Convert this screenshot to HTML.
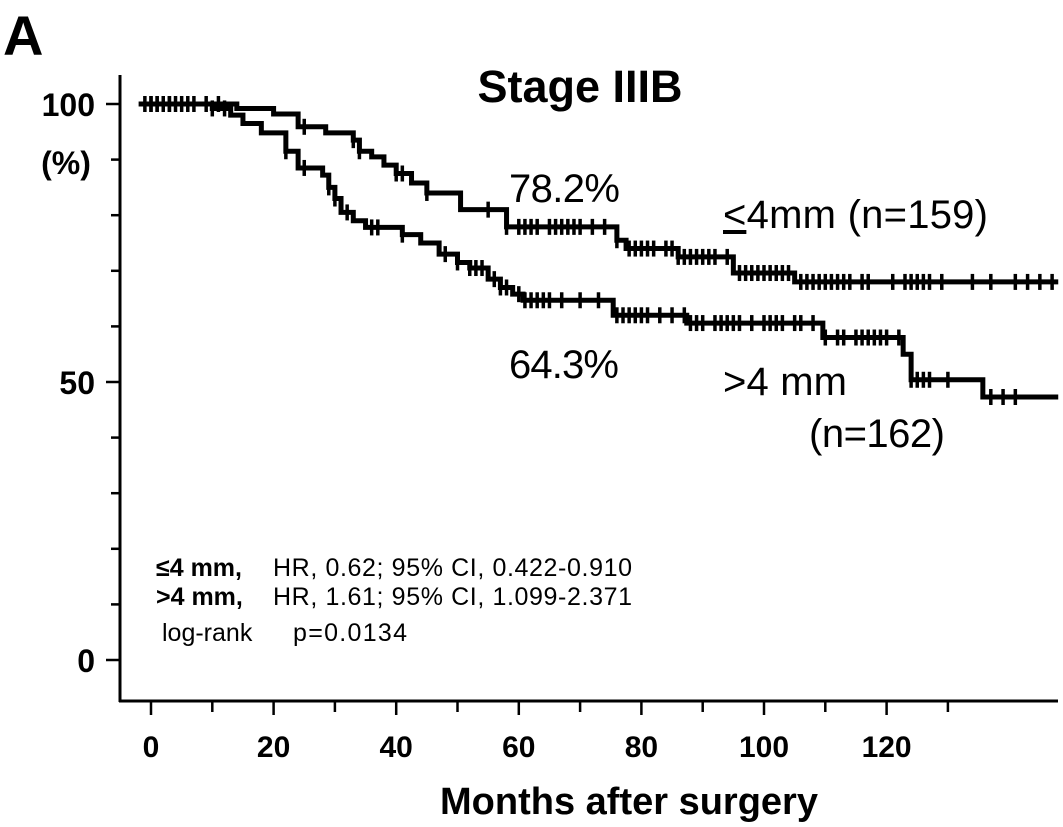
<!DOCTYPE html>
<html><head><meta charset="utf-8"><style>
body{margin:0;background:#fff;}
svg{display:block;font-family:"Liberation Sans",Arial,sans-serif;}
</style></head><body>
<svg id="chart" width="1063" height="827" viewBox="0 0 1063 827">
<text x="3" y="55" font-size="56" font-weight="bold">A</text>
<text x="580" y="102" font-size="45" font-weight="bold" text-anchor="middle">Stage IIIB</text>
<text x="66" y="174" font-size="32" font-weight="bold" text-anchor="middle">(%)</text>
<text x="629" y="814" font-size="38" font-weight="bold" text-anchor="middle">Months after surgery</text>
<text x="509" y="202" font-size="40" textLength="111">78.2%</text>
<text x="723" y="228" font-size="40" textLength="265"><tspan text-decoration="underline">&lt;</tspan>4mm (n=159)</text>
<text x="509" y="378" font-size="40" textLength="110">64.3%</text>
<text x="723" y="395" font-size="40" textLength="124">&gt;4 mm</text>
<text x="809" y="447" font-size="40" textLength="136">(n=162)</text>
<g font-size="25">
<text x="156" y="576" font-weight="bold">≤4 mm,</text>
<text x="273" y="576" textLength="359">HR, 0.62;  95% CI, 0.422-0.910</text>
<text x="156" y="605" font-weight="bold">&gt;4 mm,</text>
<text x="273" y="605" textLength="359">HR, 1.61;  95% CI, 1.099-2.371</text>
<text x="162" y="641">log-rank</text>
<text x="293" y="641" textLength="114">p=0.0134</text>
</g>
<g id="axes"></g>
<g id="curves"></g>
</svg>
<script>
const xTicks=[0,10,20,30,40,50,60,70,80,90,100,110,120,130];
const xLabels=[0,20,40,60,80,100,120];
const yTicks=[0,10,20,30,40,50,60,70,80,90,100];
const yLabels=[0,50,100];
const upperT=[0,14,20,24,28.5,33,34,36,38,40,42.5,45,50.5,58,76,77.5,86,95,105,148];
const upperS=[100,99.2,98.2,95.9,94.8,93.5,91.5,90.5,89,87.5,85.8,84,81,77.9,75.5,74,72.5,69.6,68,68];
const lowerT=[0,10,13,15,18,22,24,28,29,30,31,33,35,41,44,47,50,52,55,57,59,60.7,75.4,87.4,109.6,122.7,124,135.7,148];
const lowerS=[100,99.2,98,96.5,94.8,91.5,88.5,87.2,85,83,80.5,79,77.8,76.5,75,73,71.5,70.5,68.5,67,65.8,64.7,62,60.6,58,55,50.4,47.3,47.3];
const upperCens=[-1,0,1,2,3,4,6,9,11,25,33,34,40,41,45,55,58,60,61,62,63,65,66,67,68,69,70,72,74,76,78,79,80,81,82,84,85,86,87,88,89,90,91,92,94,96,97,98,99,100,101,102,103,104,106,107,108,109,110,111,112,113,114,116,117,121,123,124,125,126,127,129,134,137,141,143,145,147];
const lowerCens=[0,1,2,3,5,7,10,12,22,25,29,30,32,36,37,41,48,50,52,53,54,56,57,58,60,61,62,63,64,65,67,70,73,76,77,78,79,80,81,83,85,87,88,89,90,92,93,94,95,96,98,100,101,102,103,105,106,108,110,112,113,115,116,117,118,119,120,122,124,125,126,127,130,137,139,141];
const X=m=>151+m*6.13, Y=v=>660-v*5.56;
const NS='http://www.w3.org/2000/svg';
const ax=document.getElementById('axes'), cv=document.getElementById('curves');
function mk(tag,attrs,parent){const e=document.createElementNS(NS,tag);for(const k in attrs)e.setAttribute(k,attrs[k]);parent.appendChild(e);return e;}
let l=mk('line',{x1:120,y1:75,x2:120,y2:702,stroke:'#000','stroke-width':3},ax);


l=mk('line',{x1:119,y1:701,x2:1058,y2:701,stroke:'#000','stroke-width':3},ax);


xTicks.forEach(t=>{const e=mk('line',{x1:X(t),y1:701,x2:X(t),y2:(t%20===0?715:712),stroke:'#000','stroke-width':2.5},ax);

});
xLabels.forEach(t=>{const e=mk('text',{x:X(t),y:757,'font-size':30,'font-weight':'bold','text-anchor':'middle'},ax);e.textContent=t;

});
yTicks.forEach(t=>{const e=mk('line',{x1:(t%50===0?106:111),y1:Y(t),x2:120,y2:Y(t),stroke:'#000','stroke-width':2.5},ax);

});
yLabels.forEach(t=>{const e=mk('text',{x:95,y:Y(t)+12,'font-size':32,'font-weight':'bold','text-anchor':'end'},ax);e.textContent=t;

});
function stepAt(T,S,m){let v=S[0];for(let i=0;i<T.length;i++){if(T[i]<=m)v=S[i];}return v;}
function curve(T,S,C,name){
 let d='M'+X(-2)+','+Y(S[0]);
 for(let i=1;i<T.length;i++){d+=' H'+X(T[i])+' V'+Y(S[i]);}
 const p=mk('path',{d:d,fill:'none',stroke:'#000','stroke-width':5},cv);
 
 
 C.forEach(c=>{const y=Y(stepAt(T,S,c));const e=mk('line',{x1:X(c),y1:y-8,x2:X(c),y2:y+8,stroke:'#000','stroke-width':3.5},cv);
 
 });
}
curve(upperT,upperS,upperCens,'upper-group');
curve(lowerT,lowerS,lowerCens,'lower-group');
</script>
</body></html>
